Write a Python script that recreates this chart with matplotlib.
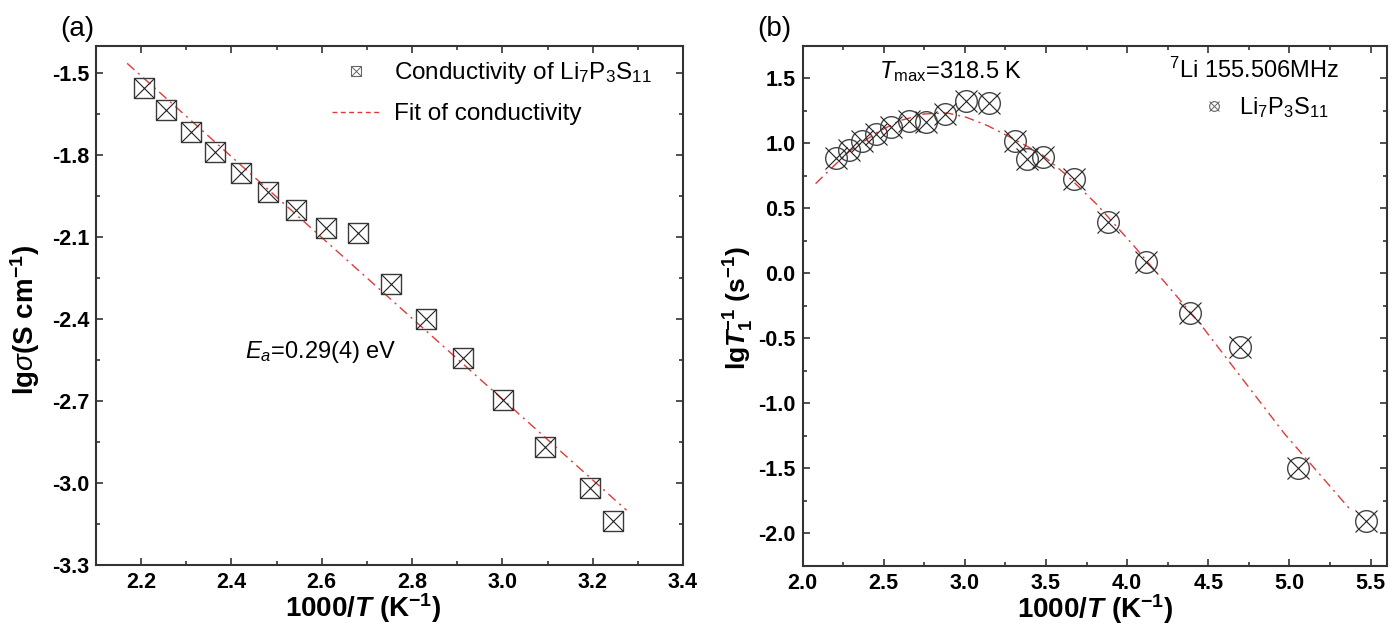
import matplotlib
matplotlib.use('Agg')
import matplotlib.pyplot as plt
from matplotlib.lines import Line2D
from matplotlib.ticker import MultipleLocator, FormatStrFormatter

# conductivity of Li7P3S11
sigma_x = [2.207, 2.256, 2.310, 2.364, 2.421, 2.482, 2.543, 2.610, 2.680, 2.753,
           2.831, 2.913, 3.002, 3.094, 3.193, 3.245]
sigma_y = [-1.554, -1.635, -1.717, -1.788, -1.867, -1.934, -1.999, -2.066, -2.083, -2.273,
           -2.401, -2.542, -2.696, -2.867, -3.017, -3.138]
# Arrhenius fit (Ea = 0.29 eV), end points
sigma_fit_x = [2.169, 3.275]
sigma_fit_y = [-1.464, -3.099]

# 7Li spin-lattice relaxation rate
t1_x = [2.204, 2.286, 2.368, 2.455, 2.545, 2.657, 2.758, 2.875, 3.004, 3.148,
        3.309, 3.385, 3.481, 3.672, 3.880, 4.118, 4.390, 4.694, 5.052, 5.469]
t1_y = [0.885, 0.949, 1.021, 1.072, 1.123, 1.169, 1.162, 1.226, 1.323, 1.308,
        1.015, 0.880, 0.898, 0.726, 0.392, 0.085, -0.305, -0.569, -1.500, -1.902]
t1_fit_x = [2.08, 2.17, 2.29, 2.46, 2.60, 2.75, 2.89, 3.01, 3.14, 3.30, 3.47, 3.63,
            3.81, 4.04, 4.45, 4.97, 5.38]
t1_fit_y = [0.69, 0.80, 0.94, 1.085, 1.175, 1.226, 1.234, 1.20, 1.136, 1.034, 0.918, 0.752,
            0.534, 0.213, -0.389, -1.235, -1.825]

FONT = 'Liberation Sans'
plt.rcParams['font.family'] = [FONT, 'DejaVu Sans']
plt.rcParams['mathtext.fontset'] = 'custom'
plt.rcParams['mathtext.rm'] = FONT
plt.rcParams['mathtext.it'] = FONT + ':italic'
plt.rcParams['mathtext.bf'] = FONT + ':bold'
plt.rcParams['mathtext.bfit'] = FONT + ':bold:italic'

RED = '#e03a3a'
fit_style = (0, (7, 3.5, 1.5, 3.5))
XLABEL = r'1000/$\mathbfit{T}$ (K$^{\mathbf{-1}}$)'

fig = plt.figure(figsize=(13.91, 6.28), dpi=100)
ax1 = fig.add_axes([0.069, 0.100, 0.422, 0.827])
ax2 = fig.add_axes([0.577, 0.099, 0.420, 0.828])


def style_axes(ax):
    for sp in ax.spines.values():
        sp.set_linewidth(1.5)
        sp.set_color('#333333')
    ax.tick_params(which='both', direction='in', top=True, right=True,
                   width=1.2, color='#333333')
    ax.tick_params(which='major', length=5, labelsize=15.5, pad=5)
    ax.tick_params(which='minor', length=3)
    for lab in ax.get_xticklabels() + ax.get_yticklabels():
        lab.set_fontweight('bold')


# ---- (a) conductivity ----
ax1.plot(sigma_fit_x, sigma_fit_y, color=RED, lw=1.0, ls=fit_style)
ax1.plot(sigma_x, sigma_y, ls='none', marker='s', ms=14.4, mfc='none', mec='#3a3a3a', mew=1.0)
ax1.plot(sigma_x, sigma_y, ls='none', marker='x', ms=14.4, mec='#222222', mew=0.8)
ax1.set_xlim(2.1, 3.4)
ax1.set_ylim(-3.3, -1.4)
ax1.xaxis.set_major_locator(MultipleLocator(0.2))
ax1.xaxis.set_minor_locator(MultipleLocator(0.1))
ax1.yaxis.set_major_locator(MultipleLocator(0.3))
ax1.yaxis.set_minor_locator(MultipleLocator(0.15))
ax1.xaxis.set_major_formatter(FormatStrFormatter('%.1f'))
ax1.yaxis.set_major_formatter(FormatStrFormatter('%.1f'))
style_axes(ax1)
ax1.set_xlabel(XLABEL, fontsize=20, fontweight='bold')
ax1.xaxis.set_label_coords(0.455, -0.05)
ax1.set_ylabel(r'lg$\mathit{\sigma}$(S cm$^{\mathbf{-1}}$)', fontsize=20, fontweight='bold')
ax1.yaxis.set_label_coords(-0.092, 0.472)

sq = Line2D([], [], ls='none', marker='s', ms=7, mfc='none', mec='#666666', mew=0.8)
cx = Line2D([], [], ls='none', marker='x', ms=7, mec='#666666', mew=0.7)
dash = Line2D([], [], color=RED, lw=1.0, ls=(0, (3.5, 2.5)))
ax1.legend([(sq, cx), dash],
           [r'Conductivity of Li$_7$P$_3$S$_{11}$', 'Fit of conductivity'],
           loc='upper right', bbox_to_anchor=(0.947, 0.972), frameon=False, fontsize=17.5,
           borderpad=0, borderaxespad=0,
           handlelength=2.0, handletextpad=0.55, labelspacing=0.7)
ax1.text(2.43, -2.543, r'$\mathit{E_a}$=0.29(4) eV', fontsize=17, va='baseline')
ax1.text(-0.003, 1.008, '(a)', transform=ax1.transAxes, fontsize=20, ha='right', va='bottom')

# ---- (b) 7Li relaxation ----
ax2.plot(t1_fit_x, t1_fit_y, color=RED, lw=1.0, ls=fit_style)
ax2.plot(t1_x, t1_y, ls='none', marker='o', ms=15.6, mfc='none', mec='#444444', mew=1.0)
ax2.plot(t1_x, t1_y, ls='none', marker='x', ms=15.6, mec='#222222', mew=0.8)
ax2.set_xlim(2.0, 5.6)
ax2.set_ylim(-2.25, 1.75)
ax2.xaxis.set_major_locator(MultipleLocator(0.5))
ax2.xaxis.set_minor_locator(MultipleLocator(0.25))
ax2.yaxis.set_major_locator(MultipleLocator(0.5))
ax2.yaxis.set_minor_locator(MultipleLocator(0.25))
ax2.xaxis.set_major_formatter(FormatStrFormatter('%.1f'))
ax2.yaxis.set_major_formatter(FormatStrFormatter('%.1f'))
style_axes(ax2)
ax2.set_xlabel(XLABEL, fontsize=20, fontweight='bold')
ax2.xaxis.set_label_coords(0.5, -0.05)
ax2.set_ylabel(r'lg$\mathbfit{T}_{\mathbf{1}}^{\mathbf{-1}}$ (s$^{\mathbf{-1}}$)', fontsize=19,
               fontweight='bold')
ax2.yaxis.set_label_coords(-0.08, 0.496)

ci = Line2D([], [], ls='none', marker='o', ms=7, mfc='none', mec='#666666', mew=0.8)
cx2 = Line2D([], [], ls='none', marker='x', ms=7, mec='#666666', mew=0.7)
ax2.legend([(ci, cx2)], [r'Li$_7$P$_3$S$_{11}$'], loc='upper right',
           bbox_to_anchor=(0.90, 0.905), frameon=False, fontsize=17,
           borderpad=0, borderaxespad=0, handlelength=1.2, handletextpad=0.45)
ax2.text(0.131, 0.938, r'$\mathit{T}_{\mathrm{max}}$=318.5 K', transform=ax2.transAxes,
         fontsize=17, va='baseline')
ax2.text(0.918, 0.938, r'$^{7}$Li 155.506MHz', transform=ax2.transAxes,
         fontsize=17, va='baseline', ha='right')
ax2.text(-0.02, 1.008, '(b)', transform=ax2.transAxes, fontsize=20, ha='right', va='bottom')

fig.savefig('out.png', dpi=100)
